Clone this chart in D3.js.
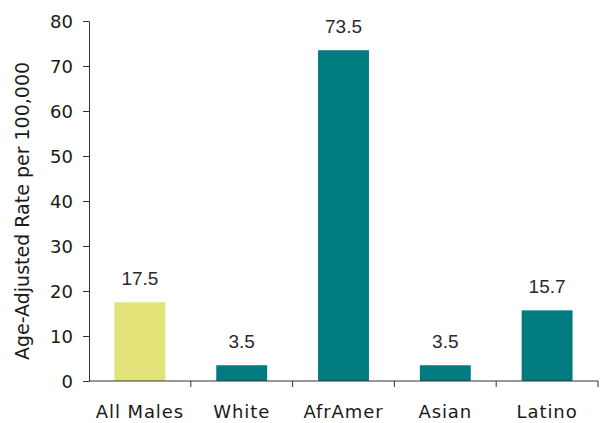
<!DOCTYPE html>
<html>
<head>
<meta charset="utf-8">
<script src="https://cdn.jsdelivr.net/npm/d3@7"></script>
<style>
  body { margin: 0; background: #fff; }
  text { font-family: "DejaVu Sans", sans-serif; fill: #1a1a1a; }
</style>
</head>
<body>
<div id="chart"></div>
<script>
var categories = ["All Males", "White", "AfrAmer", "Asian", "Latino"];
var rates = [17.5, 3.5, 73.5, 3.5, 15.7];
var rateLabels = ["17.5", "3.5", "73.5", "3.5", "15.7"];
var yTicks = [0, 10, 20, 30, 40, 50, 60, 70, 80];

var svgWidth = 603;
var svgHeight = 423;
var margin = { top: 21, right: 5, bottom: 42, left: 89 };

var svg = d3.select("#chart").append("svg")
    .attr("width", svgWidth)
    .attr("height", svgHeight);

var x = d3.scaleBand()
    .domain(categories)
    .range([margin.left, svgWidth - margin.right])
    .paddingInner(0.5)
    .paddingOuter(0.25);

var y = d3.scaleLinear()
    .domain([0, 80])
    .range([svgHeight - margin.bottom, margin.top]);

// bars
svg.selectAll("rect.bar")
    .data(rates)
    .enter()
    .append("rect")
    .attr("class", "bar")
    .attr("x", function (d, i) { return x(categories[i]); })
    .attr("y", function (d) { return y(d); })
    .attr("width", x.bandwidth())
    .attr("height", function (d) { return y(0) - y(d); })
    .attr("fill", function (d, i) { return i == 0 ? "#e2e47a" : "#007b80"; });

// value labels, thinner face
svg.selectAll("text.val")
    .data(rates)
    .enter()
    .append("text")
    .attr("class", "val")
    .attr("x", function (d, i) { return x(categories[i]) + x.bandwidth() / 2; })
    .attr("y", function (d) { return y(d) - 17; })
    .attr("text-anchor", "middle")
    .attr("font-size", 19)
    .style("font-family", "'Liberation Sans', sans-serif")
    .style("fill", "#2a2a2a")
    .text(function (d, i) { return rateLabels[i]; });

// y axis
var yAxis = svg.append("g")
    .attr("transform", "translate(" + margin.left + ",0)")
    .call(d3.axisLeft(y).tickValues(yTicks).tickSize(6).tickPadding(10).tickSizeOuter(0));
yAxis.selectAll("text").attr("font-size", 18).attr("font-family", null).attr("dy", "0.35em");
yAxis.selectAll("path, line").attr("stroke", "#333");

// x axis, ticks at band edges
var xAxis = svg.append("g")
    .attr("transform", "translate(0," + y(0) + ")");
xAxis.append("line")
    .attr("x1", margin.left)
    .attr("x2", svgWidth - margin.right)
    .attr("stroke", "#333");
var step = x.step();
xAxis.selectAll("line.tick")
    .data(categories)
    .enter()
    .append("line")
    .attr("class", "tick")
    .attr("x1", function (d) { return x(d) + x.bandwidth() / 2 + step / 2; })
    .attr("x2", function (d) { return x(d) + x.bandwidth() / 2 + step / 2; })
    .attr("y1", 0)
    .attr("y2", 6)
    .attr("stroke", "#333");
xAxis.selectAll("text")
    .data(categories)
    .enter()
    .append("text")
    .attr("x", function (d) { return x(d) + x.bandwidth() / 2; })
    .attr("y", 37)
    .attr("text-anchor", "middle")
    .attr("font-size", 18)
    .style("letter-spacing", "0.9px")
    .text(function (d) { return d; });

// y title
svg.append("text")
    .attr("transform", "translate(29,211) rotate(-90)")
    .attr("text-anchor", "middle")
    .attr("font-size", 19)
    .text("Age-Adjusted Rate per 100,000");
</script>
</body>
</html>
